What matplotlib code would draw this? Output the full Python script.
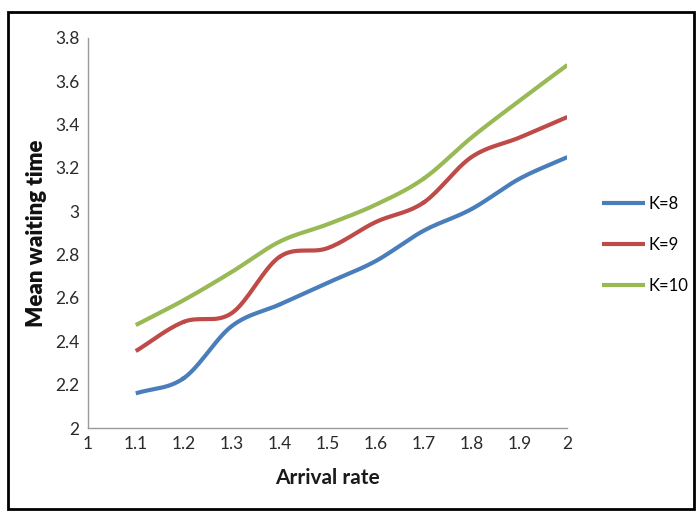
import numpy as np
import matplotlib.pyplot as plt
from matplotlib.patches import Rectangle

arrival_rate = [1.1, 1.2, 1.3, 1.4, 1.5, 1.6, 1.7, 1.8, 1.9, 2.0]
k8 = [2.16, 2.23, 2.47, 2.57, 2.67, 2.77, 2.91, 3.01, 3.15, 3.25]
k9 = [2.355, 2.49, 2.53, 2.79, 2.83, 2.95, 3.04, 3.25, 3.34, 3.435]
k10 = [2.475, 2.59, 2.72, 2.86, 2.94, 3.03, 3.15, 3.34, 3.51, 3.675]
labels = ["K=8", "K=9", "K=10"]
colors = ["#4A7EBB", "#BE4B48", "#98B954"]

plt.rcParams['font.family'] = ['Lato', 'DejaVu Sans']


def smooth(x, y, n=20):
    # Catmull-Rom curve through the points, like Excel's smoothed lines
    x = np.asarray(x, float)
    y = np.asarray(y, float)
    px = np.concatenate([[2 * x[0] - x[1]], x, [2 * x[-1] - x[-2]]])
    py = np.concatenate([[2 * y[0] - y[1]], y, [2 * y[-1] - y[-2]]])
    xs, ys = [], []
    t = np.linspace(0, 1, n)
    for i in range(1, len(px) - 2):
        for p, out in ((px, xs), (py, ys)):
            p0, p1, p2, p3 = p[i - 1], p[i], p[i + 1], p[i + 2]
            out.extend(0.5 * (2 * p1 + (-p0 + p2) * t
                              + (2 * p0 - 5 * p1 + 4 * p2 - p3) * t ** 2
                              + (-p0 + 3 * p1 - 3 * p2 + p3) * t ** 3))
    return xs, ys


fig = plt.figure(figsize=(6.97, 5.12), dpi=100)
ax = fig.add_axes([0.126, 0.164, 0.688, 0.762])

for series, lab, col in zip([k8, k9, k10], labels, colors):
    sx, sy = smooth(arrival_rate, series)
    ax.plot(sx, sy, color=col, linewidth=3, label=lab, solid_capstyle='butt')

ax.set_xlim(1, 2)
ax.set_ylim(2, 3.8)
ax.set_xticks(np.arange(1, 2.01, 0.1))
ax.set_xticklabels(["1", "1.1", "1.2", "1.3", "1.4", "1.5", "1.6", "1.7", "1.8", "1.9", "2"])
ax.set_yticks(np.arange(2, 3.81, 0.2))
ax.set_yticklabels(["2", "2.2", "2.4", "2.6", "2.8", "3", "3.2", "3.4", "3.6", "3.8"])
ax.tick_params(length=0, labelsize=12.5, colors='#2a2a2a', pad=6)
for s in ['top', 'right']:
    ax.spines[s].set_visible(False)
for s in ['left', 'bottom']:
    ax.spines[s].set_color('#999999')
    ax.spines[s].set_linewidth(1)

ax.set_xlabel("Arrival rate", fontsize=15, fontweight='bold', color='#1a1a1a', labelpad=11)
ax.set_ylabel("Mean waiting time", fontsize=16, fontweight='heavy', color='#111111', labelpad=6)

ax.legend(loc='center left', bbox_to_anchor=(1.04, 0.47), frameon=False,
          fontsize=12, handlelength=2.6, handletextpad=0.2, labelspacing=1.5)

fig.patches.append(Rectangle((0.012, 0.006), 0.984, 0.97, transform=fig.transFigure,
                             fill=False, edgecolor='black', linewidth=2))

fig.savefig("out.png", dpi=100)
